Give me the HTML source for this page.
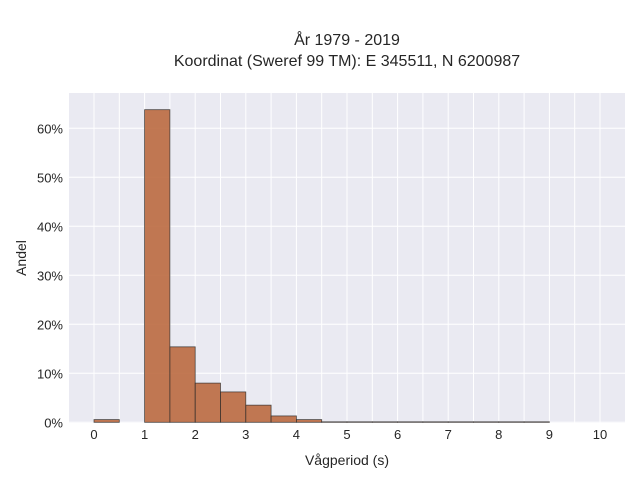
<!DOCTYPE html>
<html><head><meta charset="utf-8"><style>
body{margin:0;background:#fff;font-family:"Liberation Sans",sans-serif}
</style></head><body>
<svg width="640" height="480" xmlns="http://www.w3.org/2000/svg">
<g id="chart"></g>
</svg>
<script>
const binStarts=[0,0.5,1,1.5,2,2.5,3,3.5,4,4.5,5,5.5,6,6.5,7,7.5,8,8.5];
const shares=[0.55,0,63.8,15.4,8.0,6.2,3.5,1.3,0.55,0.1,0.1,0.1,0.1,0.1,0.1,0.1,0.1,0.1];
const xTicks=[0,1,2,3,4,5,6,7,8,9,10];
const yTicks=[0,10,20,30,40,50,60];
const binWidth=0.5;
const X0=69,X1=625,Y0=93,Y1=423;
const sx=v=>94+v*50.6;
const sy=v=>422.3-v*4.9;
const g=document.getElementById('chart');
const NS='http://www.w3.org/2000/svg';
function mk(t,a,txt){const e=document.createElementNS(NS,t);for(const k in a)e.setAttribute(k,a[k]);if(txt!==undefined)e.textContent=txt;g.appendChild(e);return e;}
let e=mk('rect',{x:X0,y:Y0,width:X1-X0,height:Y1-Y0,fill:'#eaeaf2'});


for(let v=-0.5;v<=10.5;v+=0.5){const x=sx(v);if(x<X0||x>X1)continue;
e=mk('line',{x1:x,x2:x,y1:Y0,y2:Y1,stroke:'#fff','stroke-width':1});

}
yTicks.forEach(v=>{const y=sy(v);
e=mk('line',{x1:X0,x2:X1,y1:y,y2:y,stroke:'#fff','stroke-width':1});


e=mk('text',{x:63,y:y+5,'text-anchor':'end','font-size':13,fill:'#262626'},v+'%');

});
xTicks.forEach(v=>{
e=mk('text',{x:sx(v),y:439,'text-anchor':'middle','font-size':13,fill:'#262626'},String(v));

});
binStarts.forEach((b,i)=>{if(shares[i]<=0)return;
const y=sy(shares[i]);
e=mk('rect',{x:sx(b),y:y,width:sx(b+binWidth)-sx(b),height:sy(0)-y,fill:'#b9673b','fill-opacity':0.88,stroke:'#2a2a2a','stroke-opacity':0.8,'stroke-width':0.8});

});
e=mk('text',{x:347,y:465,'text-anchor':'middle','font-size':14,fill:'#262626'},'Vågperiod (s)');


e=mk('text',{x:0,y:0,'text-anchor':'middle','font-size':14,fill:'#262626',transform:'translate(26,258) rotate(-90)'},'Andel');


e=mk('text',{x:347,y:45,'text-anchor':'middle','font-size':16,fill:'#262626'},'År 1979 - 2019');


e=mk('text',{x:347,y:66,'text-anchor':'middle','font-size':16,fill:'#262626'},'Koordinat (Sweref 99 TM): E 345511, N 6200987');


</script>
</body></html>
